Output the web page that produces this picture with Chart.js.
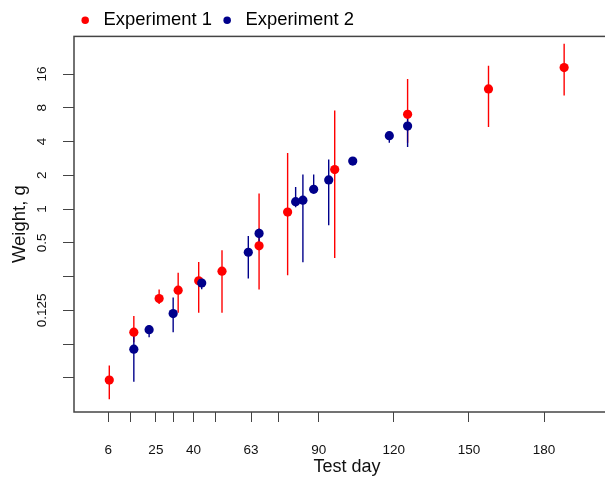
<!DOCTYPE html>
<html lang="en">

<head>
    <meta charset="UTF-8">
    <meta name="viewport" content="width=device-width, initial-scale=1.0">
    <title>Weight by test day</title>
    <script src="https://cdn.jsdelivr.net/npm/chart.js"></script>
    <style>
        html, body { margin: 0; padding: 0; overflow: hidden; background: #fff; }
        #wrap { width: 625px; height: 482px; }
    </style>
</head>

<body>
    <div id="wrap"><canvas id="myChart1" width="625" height="482"></canvas></div>
</body>
<script>
    // Experiment 1 (red)
    const exp1Days = [6.4, 16.2, 26.3, 33.9, 42.1, 51.4, 66.2, 77.6, 96.4, 125.5, 157.8, 188];
    const exp1Weight = [0.0298, 0.0797, 0.159, 0.189, 0.229, 0.279, 0.47, 0.94, 2.25, 7.0, 11.8, 18.3];
    const exp1Low = [0.0201, 0.065, 0.142, 0.119, 0.119, 0.119, 0.192, 0.257, 0.366, 3.9, 5.4, 10.3];
    const exp1High = [0.0403, 0.111, 0.192, 0.27, 0.337, 0.43, 1.375, 3.16, 7.57, 14.5, 19, 29.9];

    // Experiment 2 (blue)
    const exp2Days = [16.2, 22.3, 31.9, 43.3, 61.9, 66.2, 80.8, 83.7, 88, 94, 103.6, 118.2, 125.5];
    const exp2Weight = [0.0563, 0.084, 0.117, 0.219, 0.412, 0.607, 1.165, 1.2, 1.5, 1.82, 2.68, 4.52, 5.5];
    const exp2Low = [0.0288, 0.0718, 0.0797, 0.193, 0.24, 0.5, 1.04, 0.335, 1.4, 0.717, 2.68, 3.9, 3.58];
    const exp2High = [0.08, 0.092, 0.163, 0.24, 0.574, 0.67, 1.57, 2.03, 2.03, 2.77, 2.68, 4.9, 7.6];

    // axis ticks
    const xTicks = [6, 15, 25, 32, 40, 49, 63, 74, 90, 120, 150, 180];
    const xLabels = ["6", "", "25", "", "40", "", "63", "", "90", "120", "150", "180"];
    const yTicks = [16, 8, 4, 2, 1, 0.5, 0.25, 0.125, 0.0625, 0.03125];
    const yLabels = ["16", "8", "4", "2", "1", "0.5", "", "0.125", "", ""];

    const RED = "#ff0000";
    const BLUE = "#00008b";

    function points(days, vals) {
        return days.map((d, i) => ({ x: d, y: vals[i] }));
    }
    // one line dataset per series, gaps between bars
    function errBars(days, lo, hi) {
        const out = [];
        days.forEach((d, i) => {
            out.push({ x: d, y: lo[i] }, { x: d, y: hi[i] }, { x: d, y: null });
        });
        return out;
    }

    const boxPlugin = {
        id: "box",
        afterLayout(chart) {
            // move legend to start above the plot like the original
            chart.legend.left = 70;
            chart.legend.top += 3;
        },
        afterDraw(chart) {
            const a = chart.chartArea;
            const c = chart.ctx;
            c.save();
            c.strokeStyle = "#444";
            c.lineWidth = 1.5;
            c.strokeRect(a.left, a.top, a.right - a.left, a.bottom - a.top);
            c.restore();
        }
    };

    const font = "'Liberation Sans', Arial, sans-serif";
    const ctx = document.getElementById("myChart1");

    new Chart(ctx, {
        type: "scatter",
        data: {
            datasets: [
                {
                    label: "Experiment 1",
                    data: points(exp1Days, exp1Weight),
                    backgroundColor: RED,
                    borderColor: RED,
                    pointRadius: 4.6,
                    pointBorderWidth: 0,
                    pointStyle: "circle",
                    order: 1,
                },
                {
                    label: "Experiment 2",
                    data: points(exp2Days, exp2Weight),
                    backgroundColor: BLUE,
                    borderColor: BLUE,
                    pointRadius: 4.6,
                    pointBorderWidth: 0,
                    pointStyle: "circle",
                    order: 0,
                },
                {
                    type: "line",
                    label: "err1",
                    data: errBars(exp1Days, exp1Low, exp1High),
                    borderColor: RED,
                    borderWidth: 1.4,
                    pointRadius: 0,
                    spanGaps: false,
                    order: 3,
                },
                {
                    type: "line",
                    label: "err2",
                    data: errBars(exp2Days, exp2Low, exp2High),
                    borderColor: BLUE,
                    borderWidth: 1.4,
                    pointRadius: 0,
                    spanGaps: false,
                    order: 2,
                },
            ],
        },
        options: {
            responsive: false,
            animation: false,
            layout: { padding: { top: 2, right: 5, bottom: 0, left: 0 } },
            plugins: {
                tooltip: { enabled: false },
                legend: {
                    position: "top",
                    align: "start",
                    labels: {
                        filter: (item) => item.text.startsWith("Experiment"),
                        sort: (a, b) => a.datasetIndex - b.datasetIndex,
                        usePointStyle: true,
                        boxHeight: 5.3,
                        padding: 6,
                        color: "#000",
                        font: { family: font, size: 18.4 },
                    },
                },
            },
            scales: {
                x: {
                    type: "linear",
                    min: -7.69,
                    max: 210.3,
                    bounds: "data",
                    offset: false,
                    afterBuildTicks: (s) => { s.ticks = xTicks.map((v) => ({ value: v })); },
                    afterFit: (s) => { s.height = 70; },
                    grid: { drawOnChartArea: false, tickLength: 10, color: "#444", lineWidth: 1, offset: false },
                    border: { display: false },
                    ticks: {
                        autoSkip: false,
                        maxRotation: 0,
                        padding: 20,
                        color: "#111",
                        font: { family: font, size: 13.5 },
                        callback: (v, i) => xLabels[i],
                    },
                    title: {
                        display: true,
                        text: "Test day",
                        color: "#111",
                        font: { family: font, size: 18 },
                        padding: { top: 0, bottom: 4 },
                    },
                },
                y: {
                    type: "logarithmic",
                    min: 0.01548,
                    max: 34.7,
                    bounds: "data",
                    afterBuildTicks: (s) => { s.ticks = yTicks.map((v) => ({ value: v })); },
                    afterFit: (s) => { s.width = 74; },
                    grid: { drawOnChartArea: false, tickLength: 11, color: "#444", lineWidth: 1 },
                    border: { display: false },
                    ticks: {
                        autoSkip: false,
                        minRotation: 90,
                        maxRotation: 90,
                        crossAlign: "center",
                        padding: 3.5,
                        color: "#111",
                        font: { family: font, size: 13.5 },
                        callback: (v, i) => yLabels[i],
                    },
                    title: {
                        display: true,
                        text: "Weight, g",
                        color: "#111",
                        font: { family: font, size: 18.5 },
                        padding: { top: 9, bottom: 0 },
                    },
                },
            },
        },
        plugins: [boxPlugin],
    });
</script>

</html>
